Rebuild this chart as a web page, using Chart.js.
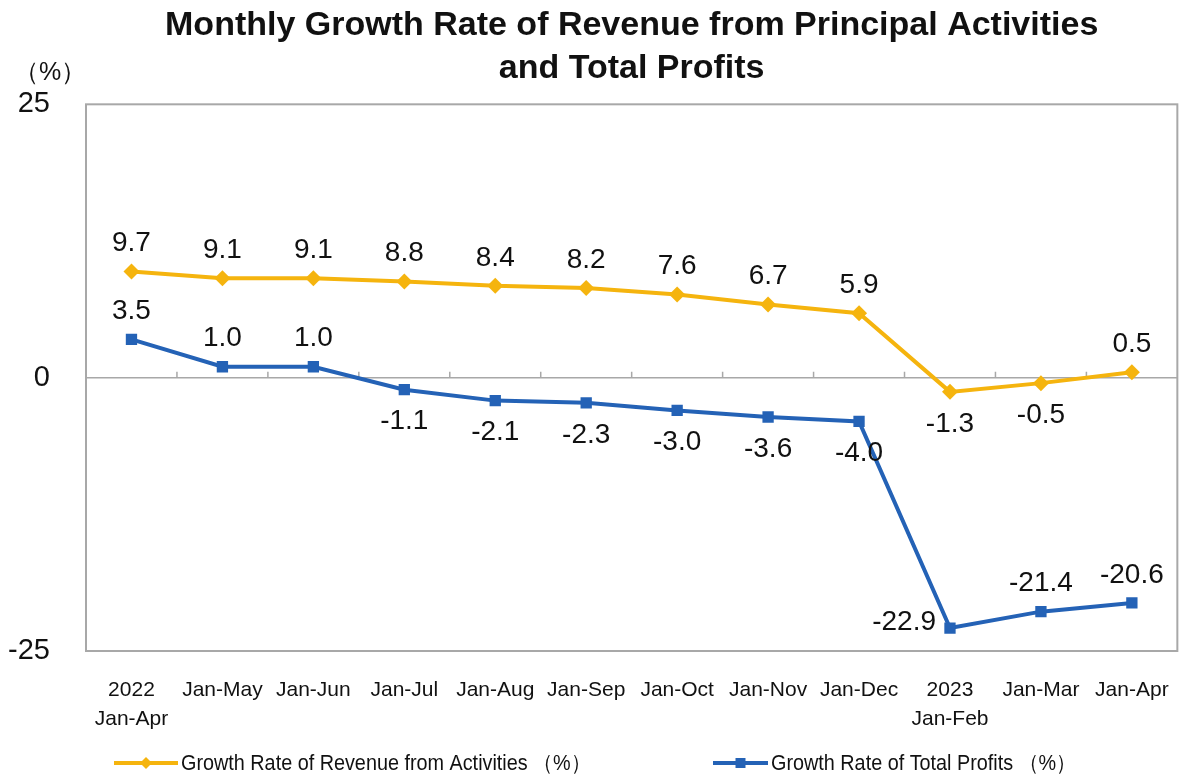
<!DOCTYPE html>
<html>
<head>
<meta charset="utf-8">
<title>Monthly Growth Rate of Revenue from Principal Activities and Total Profits</title>
<script src="https://cdn.jsdelivr.net/npm/chart.js@4.4.0/dist/chart.umd.min.js"></script>
<style>
  html, body { margin: 0; padding: 0; background: #fff; }
  #wrap { width: 1186px; height: 780px; position: relative; }
</style>
</head>
<body>
<div id="wrap"><canvas id="lineChart"></canvas></div>
<script>
// Dados do gráfico
const periods = [['2022', 'Jan-Apr'], 'Jan-May', 'Jan-Jun', 'Jan-Jul', 'Jan-Aug', 'Jan-Sep',
                 'Jan-Oct', 'Jan-Nov', 'Jan-Dec', ['2023', 'Jan-Feb'], 'Jan-Mar', 'Jan-Apr'];
const revenueGrowth = [9.7, 9.1, 9.1, 8.8, 8.4, 8.2, 7.6, 6.7, 5.9, -1.3, -0.5, 0.5];
const profitGrowth = [3.5, 1.0, 1.0, -1.1, -2.1, -2.3, -3.0, -3.6, -4.0, -22.9, -21.4, -20.6];
const yTickValues = [-25, 0, 25];
const seriesNames = ['Growth Rate of Revenue from Activities （%）', 'Growth Rate of Total Profits （%）'];
const unitLabel = '（%）';

// onde fica o rótulo de cada ponto
const revenueLabelPos = ['top', 'top', 'top', 'top', 'top', 'top', 'top', 'top', 'top', 'bottom', 'bottom', 'top'];
const profitLabelPos = ['top', 'top', 'top', 'bottom', 'bottom', 'bottom', 'bottom', 'bottom', 'bottom', 'left', 'top', 'top'];

const FONT = '"Liberation Sans", Arial, sans-serif';
const YELLOW = '#F5B40E';
const BLUE = '#2462B6';
const FRAME = '#a8a8a8';

// legenda desenhada à mão (linha + marcador + texto)
const legendSlots = [
    { lineFrom: 114, lineTo: 178, text: 181, style: 'rectRot' },
    { lineFrom: 713, lineTo: 768, text: 771, style: 'rect' }
];
const LEGEND_Y = 763;

function drawLegend(chart) {
    const ctx = chart.ctx;
    ctx.save();
    chart.data.datasets.forEach((ds, i) => {
        const s = legendSlots[i];
        const mid = (s.lineFrom + s.lineTo) / 2;
        ctx.strokeStyle = ds.borderColor;
        ctx.fillStyle = ds.borderColor;
        ctx.lineWidth = 4;
        ctx.beginPath();
        ctx.moveTo(s.lineFrom, LEGEND_Y);
        ctx.lineTo(s.lineTo, LEGEND_Y);
        ctx.stroke();
        ctx.beginPath();
        if (s.style === 'rectRot') {
            ctx.moveTo(mid, LEGEND_Y - 6);
            ctx.lineTo(mid + 6, LEGEND_Y);
            ctx.lineTo(mid, LEGEND_Y + 6);
            ctx.lineTo(mid - 6, LEGEND_Y);
        } else {
            ctx.rect(mid - 5, LEGEND_Y - 5, 10, 10);
        }
        ctx.closePath();
        ctx.fill();

        ctx.save();
        ctx.translate(s.text, LEGEND_Y);
        ctx.scale(0.9, 1);
        ctx.fillStyle = '#111';
        ctx.font = '22px ' + FONT;
        ctx.textAlign = 'left';
        ctx.textBaseline = 'middle';
        ctx.fillText(ds.label, 0, 1);
        ctx.restore();
    });
    ctx.restore();
}

// moldura, marcas do eixo, unidade e rótulos dos valores
const decorations = {
    id: 'decorations',
    beforeDatasetsDraw(chart) {
        const ctx = chart.ctx;
        const a = chart.chartArea;
        const xs = chart.scales.x;
        const y0 = chart.scales.y.getPixelForValue(0);
        ctx.save();
        ctx.strokeStyle = FRAME;
        ctx.lineWidth = 2;
        ctx.strokeRect(a.left, a.top, a.right - a.left, a.bottom - a.top);
        ctx.lineWidth = 1.5;
        ctx.beginPath();
        for (let i = 1; i < periods.length; i++) {
            const bx = (xs.getPixelForValue(i - 1) + xs.getPixelForValue(i)) / 2;
            ctx.moveTo(bx, y0);
            ctx.lineTo(bx, y0 - 6);
        }
        ctx.stroke();
        ctx.fillStyle = '#111';
        ctx.font = '25px ' + FONT;
        ctx.textAlign = 'center';
        ctx.textBaseline = 'middle';
        ctx.fillText(unitLabel, 50, 73);
        ctx.restore();
    },
    afterDatasetsDraw(chart) {
        const ctx = chart.ctx;
        const placement = [revenueLabelPos, profitLabelPos];
        ctx.save();
        ctx.font = '28px ' + FONT;
        ctx.fillStyle = '#111';
        ctx.textBaseline = 'middle';
        chart.data.datasets.forEach((ds, di) => {
            const meta = chart.getDatasetMeta(di);
            meta.data.forEach((pt, i) => {
                const txt = ds.data[i].toFixed(1);
                const pos = placement[di][i];
                let x = pt.x, y = pt.y;
                if (pos === 'top') {
                    ctx.textAlign = 'center';
                    y -= 28;
                } else if (pos === 'bottom') {
                    ctx.textAlign = 'center';
                    y += 32;
                } else {
                    ctx.textAlign = 'right';
                    x -= 14;
                    y -= 6;
                }
                ctx.fillText(txt, x, y);
            });
        });
        ctx.restore();
        drawLegend(chart);
    }
};

const ctx = document.getElementById('lineChart').getContext('2d');

new Chart(ctx, {
    type: 'line',
    data: {
        labels: periods,
        datasets: [
            {
                label: seriesNames[0],
                data: revenueGrowth,
                borderColor: YELLOW,
                backgroundColor: YELLOW,
                borderWidth: 4,
                pointStyle: 'rectRot',
                pointRadius: 8,
                pointBorderWidth: 0,
                tension: 0
            },
            {
                label: seriesNames[1],
                data: profitGrowth,
                borderColor: BLUE,
                backgroundColor: BLUE,
                borderWidth: 4,
                pointStyle: 'rect',
                pointRadius: 8,
                pointBorderWidth: 0,
                tension: 0
            }
        ]
    },
    options: {
        responsive: true,
        maintainAspectRatio: false,
        animation: false,
        layout: { padding: { left: 0, right: 1, top: 0, bottom: 37 } },
        plugins: {
            title: {
                display: true,
                fullSize: false,
                text: ['Monthly Growth Rate of Revenue from Principal Activities', 'and Total Profits'],
                color: '#111',
                font: { family: FONT, size: 34, weight: 'bold', lineHeight: 1.24 },
                padding: { top: 5, bottom: 15 }
            },
            legend: { display: false },
            tooltip: { enabled: false }
        },
        scales: {
            x: {
                offset: true,
                grid: { display: false },
                border: { display: false },
                ticks: {
                    color: '#111',
                    font: { family: FONT, size: 21, lineHeight: 1.38 },
                    padding: 17,
                    maxRotation: 0,
                    autoSkip: false
                },
                afterFit(scale) { scale.height = 92; }
            },
            y: {
                min: -25,
                max: 25,
                afterBuildTicks(scale) {
                    scale.ticks = yTickValues.map(v => ({ value: v }));
                },
                grid: {
                    drawTicks: false,
                    color: c => (c.tick && c.tick.value === 0 ? FRAME : 'rgba(0,0,0,0)'),
                    lineWidth: 1.5
                },
                border: { display: false },
                ticks: {
                    color: '#111',
                    font: { family: FONT, size: 29 },
                    padding: 36
                },
                afterFit(scale) { scale.width = 86; }
            }
        }
    },
    plugins: [decorations]
});
</script>
</body>
</html>
